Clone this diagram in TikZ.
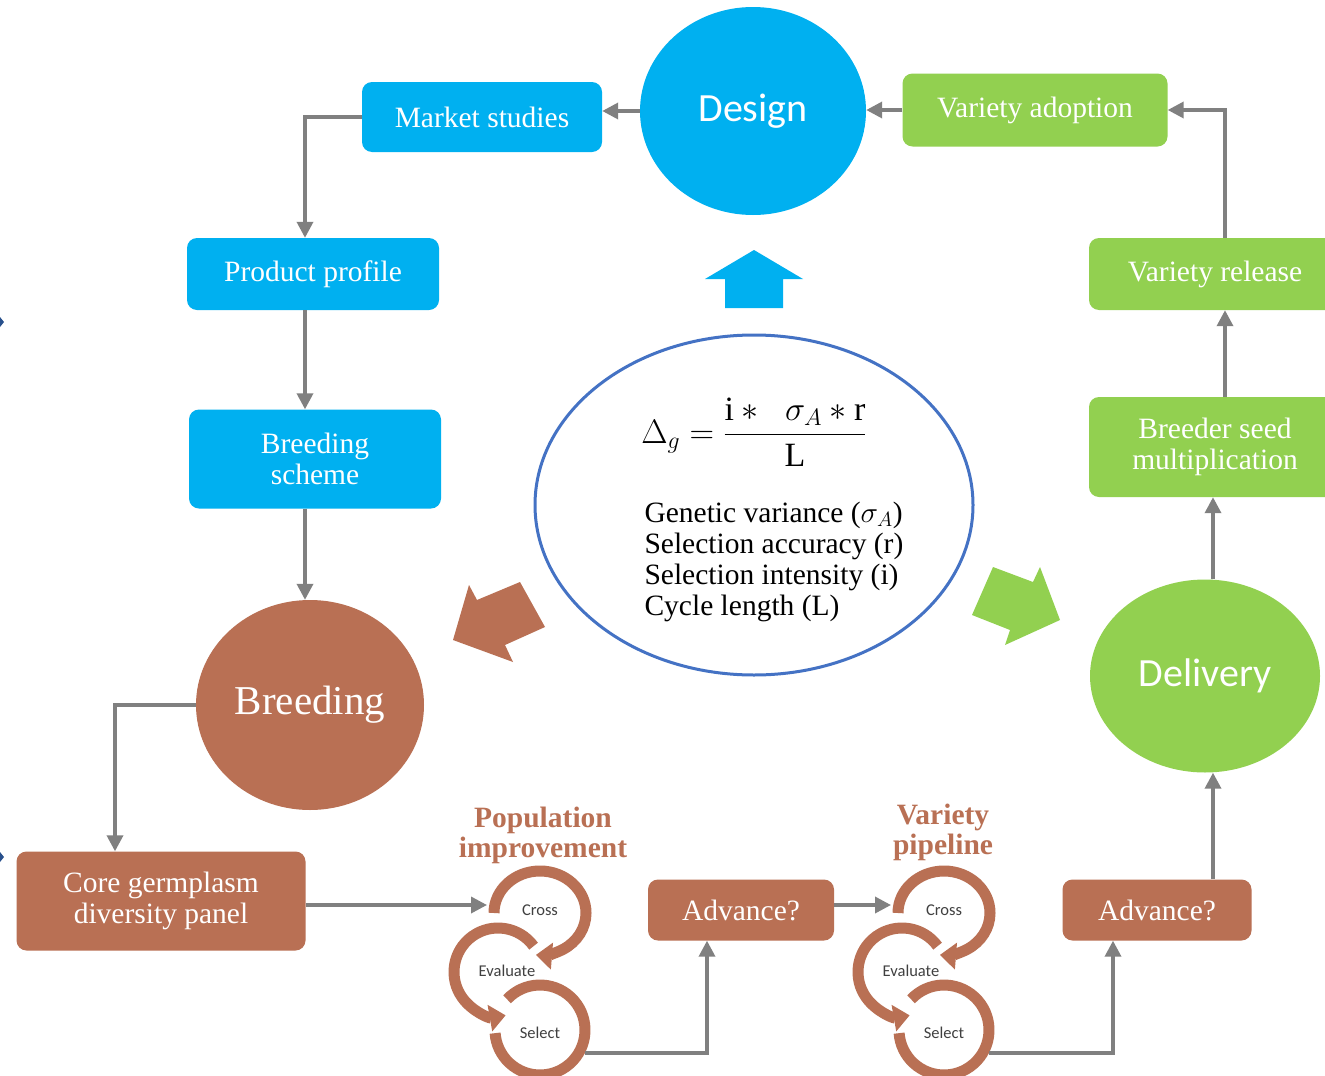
\RequirePackage{fix-cm}
\documentclass[tikz,border=0pt]{standalone}
\usepackage{amsmath}
\usepackage{fontspec}
\setmainfont{Liberation Serif}
\newfontfamily\sansfont{Carlito}
\usetikzlibrary{shapes.geometric,arrows.meta,positioning,calc}
\definecolor{designblue}{RGB}{0,176,240}
\definecolor{deliverygreen}{RGB}{146,208,80}
\definecolor{breedbrown}{RGB}{185,112,84}
\definecolor{ringblue}{RGB}{68,114,196}
\definecolor{linegray}{RGB}{128,128,128}
\definecolor{markblue}{RGB}{40,80,140}

\tikzset{
  box/.style={rounded corners=10pt, text=white, align=center, inner sep=0pt,
    font=\fontsize{29.5}{31}\selectfont},
  hub/.style={ellipse, inner sep=0pt, text=white},
  conn/.style={draw=linegray, line width=3.5pt, -{Triangle[width=16pt,length=16pt]}},
  loopline/.style={draw=breedbrown, line width=11pt},
  looptip/.style={-{Triangle[width=26pt,length=16pt]}},
  looptext/.style={font=\sansfont\fontsize{16.5}{18}\selectfont, text=black!75},
  looplabel/.style={align=center, text=breedbrown, font=\fontsize{29.5}{30}\selectfont\bfseries}
}

\begin{document}
\begin{tikzpicture}[x=1pt,y=-1pt]
  \useasboundingbox (0,0) rectangle (1325,1076);
  \clip (0,0) rectangle (1325,1076);
  \fill[white] (0,0) rectangle (1325,1076);

  % columns for the connectors
  \coordinate (colC) at (115,0);
  \coordinate (colL) at (305,0);
  \coordinate (colA) at (707,0);
  \coordinate (colB) at (1113,0);
  \coordinate (colD) at (1213,0);
  \coordinate (colR) at (1225,0);

  % design
  \node[hub, fill=designblue, minimum width=226pt, minimum height=208pt,
    font=\sansfont\fontsize{40}{44}\selectfont] (design) at (753,111) {Design};
  \node[box, fill=designblue, minimum width=240pt, minimum height=70pt] (market) at (482,117) {Market studies};
  \node[box, fill=designblue, minimum width=252pt, minimum height=72pt] (product) at (313,274) {Product profile};
  \node[box, fill=designblue, minimum width=252pt, minimum height=99pt] (scheme) at (315,459) {Breeding\\scheme};

  % breeding
  \node[hub, fill=breedbrown, minimum width=228pt, minimum height=210pt,
    font=\fontsize{41}{44}\selectfont] (breeding) at (310,705) {Breeding};
  \node[box, fill=breedbrown, minimum width=289pt, minimum height=99pt] (core) at (161,901) {Core germplasm\\diversity panel};
  \node[box, fill=breedbrown, minimum width=186pt, minimum height=61pt] (adv1) at (741,910) {Advance?};
  \node[box, fill=breedbrown, minimum width=189pt, minimum height=61pt] (adv2) at (1157,910) {Advance?};

  % delivery
  \node[hub, fill=deliverygreen, minimum width=230pt, minimum height=193pt,
    font=\sansfont\fontsize{40}{44}\selectfont] (delivery) at (1205,676) {Delivery};
  \node[box, fill=deliverygreen, minimum width=252pt, minimum height=100pt] (breeder) at (1215,447) {Breeder seed\\multiplication};
  \node[box, fill=deliverygreen, minimum width=252pt, minimum height=72pt] (release) at (1215,274) {Variety release};
  \node[box, fill=deliverygreen, minimum width=265pt, minimum height=73pt] (adoption) at (1035,110) {Variety adoption};

  % genetic gain
  \node[ellipse, draw=ringblue, line width=3pt, minimum width=438pt, minimum height=340pt] (gainring) at (754,505) {};
  \node (gain) at (754,432) {\fontsize{34}{38}\selectfont
    $\Delta_g = \dfrac{\text{i} \ast\;\; \sigma_A \ast \text{r}}{\text{L}}$};
  \node[anchor=west, align=left, font=\fontsize{29.5}{31}\selectfont] (factors) at (641,562)
    {Genetic variance ($\sigma_A$)\\Selection accuracy (r)\\Selection intensity (i)\\Cycle length (L)};

  % block arrows round the ring
  \fill[designblue] (725,308) -- (725,279) -- (705,279) -- (754,250) -- (803,279) -- (783,279) -- (783,308) -- cycle;
  \fill[breedbrown] (453,640) -- (469,585) -- (477,600) -- (520,582) -- (545,627) -- (505,645) -- (513,662) -- cycle;
  \fill[deliverygreen] (972,615) -- (993,567) -- (1033,582) -- (1040,567) -- (1060,620) -- (1005,645) -- (1010,630) -- cycle;

  % cross, evaluate, select
  \node[looplabel] (poplabel) at (543,835) {Population\\improvement};
  \node[looplabel] (varlabel) at (943,832) {Variety\\pipeline};
  \foreach \cx/\nm in {540/pi, 944/vp} {
    \draw[loopline, looptip] (\cx,913) ++(180:{46 and 42}) arc[start angle=180, end angle=455, x radius=46, y radius=42];
    \draw[loopline, looptip] (\cx-42,972) ++(324:44) arc[start angle=324, end angle=80, radius=44];
    \draw[loopline] (\cx,1030) ++(223:45) arc[start angle=223, end angle=536, radius=45];
    \node[looptext] at (\cx,910) {Cross};
    \node[looptext] at (\cx-33,971) {Evaluate};
    \node[looptext] at (\cx,1033) {Select};
    \coordinate (\nm start) at (\cx-53,905);
    \coordinate (\nm out) at (\cx+45,1053);
  }

  % connectors
  \draw[conn] (design.west) -- (design.west -| market.east);
  \draw[conn] (market.west) -| (colL |- product.north);
  \draw[conn] (colL |- product.south) -- (colL |- scheme.north);
  \draw[conn] (colL |- scheme.south) -- (colL |- breeding.north);
  \draw[conn] (breeding.west) -| (colC |- core.north);
  \draw[conn] (core.east |- pistart) -- (pistart);
  \draw[conn] (piout) -| (colA |- adv1.south);
  \draw[conn] (adv1.east |- vpstart) -- (vpstart);
  \draw[conn] (vpout) -| (colB |- adv2.south);
  \draw[conn] (colD |- adv2.north) -- (colD |- delivery.south);
  \draw[conn] (colD |- delivery.north) -- (colD |- breeder.south);
  \draw[conn] (colR |- breeder.north) -- (colR |- release.south);
  \draw[conn] (colR |- release.north) |- (adoption.east);
  \draw[conn] (adoption.west) -- (adoption.west -| design.east);

  % marks at the left edge
  \fill[markblue] (0,317) -- (4,322) -- (0,327) -- cycle;
  \fill[markblue] (0,852) -- (4,857) -- (0,862) -- cycle;
\end{tikzpicture}
\end{document}
